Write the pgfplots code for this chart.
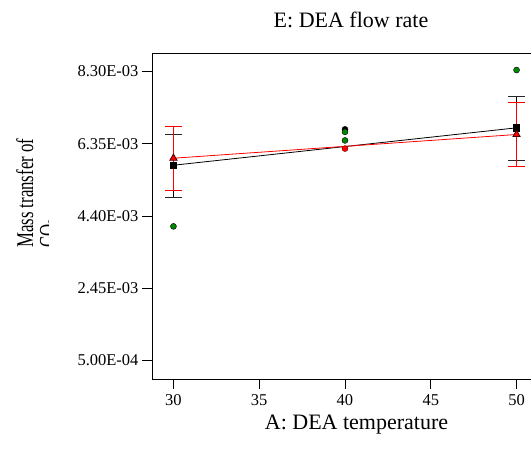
\documentclass[border=0pt]{standalone}
\usepackage{pgfplots}
\usepackage{pgfplotstable}
\pgfplotsset{compat=1.18}
\usepackage{fontspec}
\setmainfont{Liberation Serif}
\usepackage{graphicx}
\definecolor{dgreen}{RGB}{0,135,0}
\pgfplotstableread{
x y ep em
30 0.00577 0.00084 0.00087
50 0.00678 0.00084 0.00087
}\blackdata
\pgfplotstableread{
x y ep em
30 0.00596 0.00086 0.00086
50 0.00660 0.00087 0.00086
}\reddata
\begin{document}
\begin{tikzpicture}[x=1pt,y=1pt]
\begin{axis}[
  at={(152pt,73pt)}, anchor=south west,
  scale only axis, width=386pt, height=326pt,
  xmin=28.75, xmax=51.25, ymin=0, ymax=0.0088,
  xtick={30,35,40,45,50}, xticklabels={30,35,40,45,50},
  ytick={0.0005,0.00245,0.0044,0.00635,0.0083},
  yticklabels={5.00E-04,2.45E-03,4.40E-03,6.35E-03,8.30E-03},
  scaled y ticks=false,
  tick align=outside, tick pos=left, major tick length=10pt,
  tick style={black, line width=0.8pt},
  ticklabel style={font=\fontsize{16.5}{18}\selectfont},
  xticklabel style={yshift=-2pt},
  axis line style={line width=0.8pt},
  clip=false,
]
% design points
\addplot[only marks, mark=*, mark size=3pt, mark options={fill=black, draw=black}] coordinates {(40,0.00674)};
\addplot[only marks, mark=*, mark size=3pt, mark options={fill=dgreen, draw=black}] coordinates {(30,0.00412) (40,0.00667) (40,0.00644) (50,0.00834)};
\addplot[only marks, mark=*, mark size=3pt, mark options={fill=red, draw=black!60!red}] coordinates {(40,0.00622)};
% black series
\addplot[black, line width=0.8pt, mark=square*, mark size=3.3pt, mark options={fill=black},
  error bars/.cd, y dir=both, y explicit, error mark=-,
  error bar style={draw=black, line width=0.8pt},
  error mark options={rotate=90, draw=black!85, mark size=8.5pt, line width=1.1pt}]
  table[x=x, y=y, y error plus=ep, y error minus=em] {\blackdata};
% red series
\addplot[red, line width=0.8pt, mark=triangle*, mark size=4.2pt, mark options={fill=red, draw=black!70!red},
  error bars/.cd, y dir=both, y explicit, error mark=-,
  error bar style={draw=red, line width=0.8pt},
  error mark options={rotate=90, draw=red, mark size=8.5pt, line width=1.1pt}]
  table[x=x, y=y, y error plus=ep, y error minus=em] {\reddata};
\end{axis}
\node[anchor=base, inner sep=0pt, font=\fontsize{22}{24}\selectfont] at (351,424) {E: DEA flow rate};
\node[anchor=base, inner sep=0pt, font=\fontsize{22}{24}\selectfont] at (356.5,22) {A: DEA temperature};
\begin{scope}
\clip (0,0) rectangle (48,452);
\node[rotate=90, anchor=base west, inner sep=0pt, font=\fontsize{24}{26}\selectfont] at (33,204) {\scalebox{0.7}[1]{Mass transfer of}};
\node[rotate=90, anchor=base west, inner sep=0pt, font=\fontsize{24}{26}\selectfont] at (56,204) {\scalebox{0.7}[1]{CO\textsubscript{2}}};
\end{scope}
\pgfresetboundingbox
\path[use as bounding box] (0,0) rectangle (531,452);
\end{tikzpicture}
\end{document}
